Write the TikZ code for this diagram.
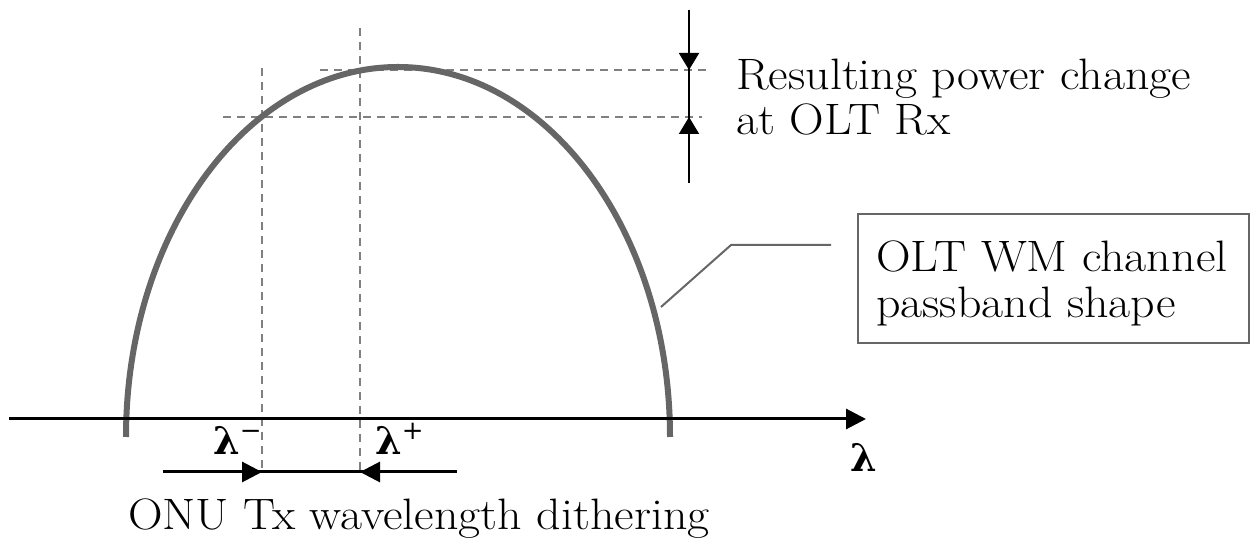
\documentclass[tikz,border=0pt]{standalone}
\usepackage{fontspec}
\usetikzlibrary{arrows.meta}
\newfontfamily\grk{DejaVu Serif}
\newfontfamily\wide{Latin Modern Roman}[FakeStretch=1.09]
\definecolor{curvegray}{gray}{0.4}
\definecolor{dashgray}{gray}{0.5}
\begin{document}
\begin{tikzpicture}[x=1pt,y=1pt,
  curve/.style={draw=curvegray,line width=6pt},
  guide/.style={draw=dashgray,line width=1.8pt,dash pattern=on 8pt off 6pt},
  axisline/.style={draw=black,line width=3pt},
  thinline/.style={draw=black,line width=2pt},
  bigtip/.style={-{Triangle[length=20pt,width=20pt]}},
  smalltip/.style={-{Triangle[length=17pt,width=20pt]}},
  lbl/.style={font=\wide\fontsize{44}{46}\selectfont,inner sep=0pt,align=left},
  grklbl/.style={font=\fontsize{38}{40}\selectfont\grk\bfseries,inner sep=0pt},
  boxnode/.style={draw=curvegray,line width=1.5pt,minimum width=391pt,minimum height=129pt,inner sep=0pt}
]
\useasboundingbox (0,0) rectangle (1252,540);
% named coordinates
\coordinate (axL) at (9,121);
\coordinate (axR) at (866,121);
\coordinate (footL) at (126,103);
\coordinate (v1t) at (262,472);
\coordinate (v1b) at (262,68);
\coordinate (v2t) at (360,512);
\coordinate (v2b) at (360,68);
\coordinate (h1l) at (320,470);
\coordinate (h1r) at (708,470);
\coordinate (h2l) at (223,423);
\coordinate (h2r) at (702,423);
\coordinate (pt) at (689,530);
\coordinate (pb) at (689,357);
\coordinate (pa) at (689,470);
\coordinate (pc) at (689,423);
\coordinate (dl) at (163,68);
\coordinate (dr) at (457,68);
\coordinate (l1) at (661,233);
\coordinate (l2) at (731,295);
\coordinate (l3) at (831,295);
% dashed guides
\draw[guide] (v1t) -- (v1b);
\draw[guide] (v2t) -- (v2b);
\draw[guide] (h1l) -- (h1r);
\draw[guide] (h2l) -- (h2r);
% passband curve
\draw[curve] (footL) arc[start angle=180,end angle=0,x radius=272,y radius=370];
% axis
\draw[axisline,bigtip] (axL) -- (axR);
% power change arrows
\draw[thinline] (pt) -- (pb);
\draw[thinline,smalltip] (pt) -- (pa);
\draw[thinline,smalltip] (pb) -- (pc);
% dithering arrows
\draw[axisline] (dl) -- (dr);
\draw[axisline,bigtip] (dl) -- (v1b);
\draw[axisline,bigtip] (dr) -- (v2b);
% leader
\draw[draw=curvegray,line width=2pt] (l1) -- (l2) -- (l3);
% box
\node[boxnode] (box) at (1053.5,261.5) {};
\node[lbl,anchor=base west] (boxtxt1) at (876,268) {OLT WM channel};
\node[lbl,anchor=base west] (boxtxt2) at (876,222) {passband shape};
% texts
\node[lbl,anchor=base west] (res1) at (736,450) {Resulting power change};
\node[lbl,anchor=base west] (res2) at (736,405) {at OLT Rx};
\node[lbl,anchor=base west] (onu) at (128,10) {ONU Tx wavelength dithering};
\node[grklbl,anchor=base west] (lm) at (213,85) {λ\raisebox{0.42em}{\fontsize{26}{26}\selectfont\mdseries −}};
\node[grklbl,anchor=base west] (lp) at (375,85) {λ\raisebox{0.42em}{\fontsize{26}{26}\selectfont\mdseries +}};
\node[grklbl,anchor=base west] (lax) at (850,68) {λ};
\end{tikzpicture}
\end{document}
